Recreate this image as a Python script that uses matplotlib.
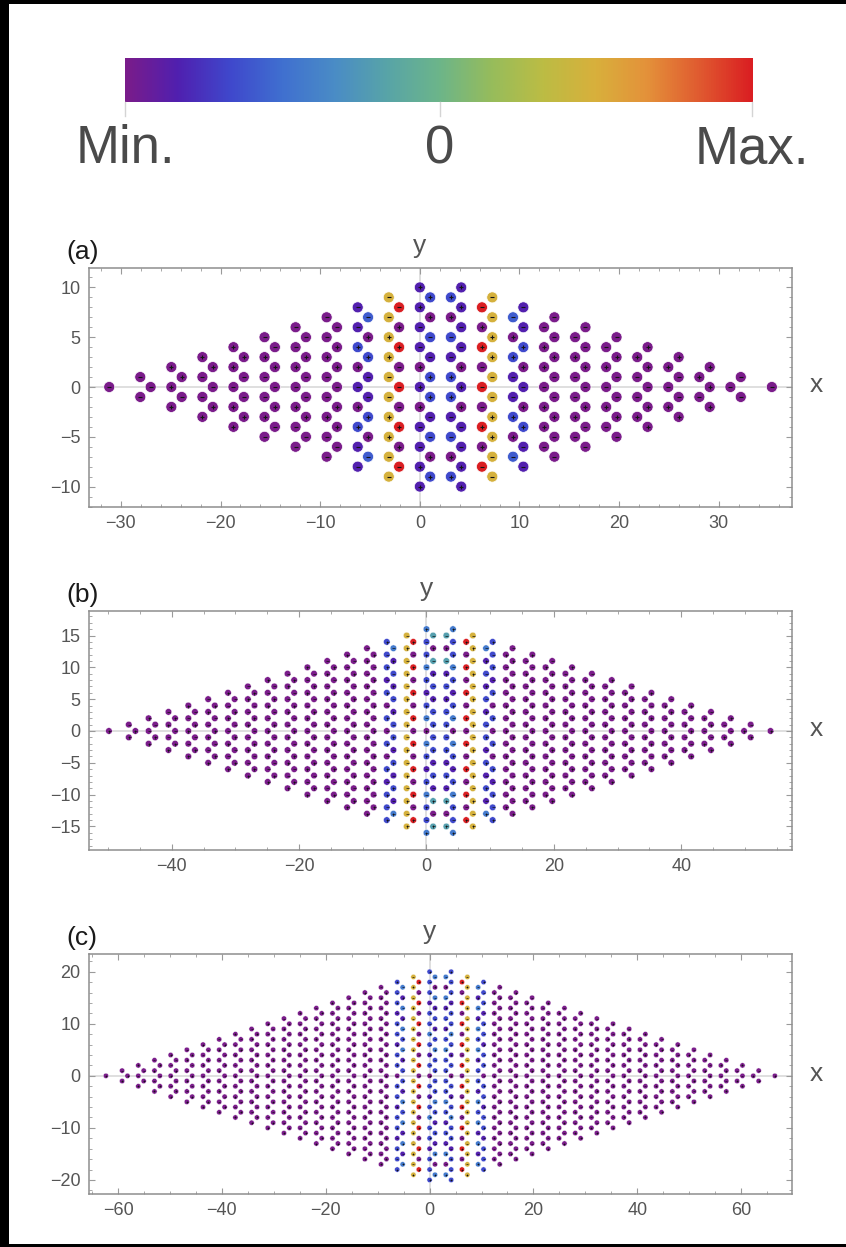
import numpy as np
import matplotlib
matplotlib.use("Agg")
import matplotlib.pyplot as plt
from matplotlib.colors import LinearSegmentedColormap, Normalize
from matplotlib.patches import Rectangle
from matplotlib.ticker import MultipleLocator

plt.rcParams['font.family'] = ['Liberation Sans', 'DejaVu Sans']

# ------------------------------------------------------------------ data
# colour scale (Min -> 0 -> Max), Mathematica-"Rainbow"-like anchors
rainbow_colors = ['#7a1c8a', '#5020b0', '#3f48cc', '#4070d0', '#4a8cc6', '#58a4a8',
                  '#6cb58a', '#96bc5c', '#bcbc44', '#d8b03c', '#e4913a', '#e05a30', '#da1e22']
colorbar_labels = ["Min.", "0", "Max."]

# colour codes -> position on the colour scale
code_levels = {"P": 0.0, "V": 0.04, "I": 0.08, "B": 0.17, "b": 0.21,
               "L": 0.28, "T": 0.40, "G": 0.74, "R": 1.0}

lattice_step = 1.039          # x distance per column index
panel_sizes = [10, 16, 20]    # half height (max |y|) of each lattice
panel_names = ["(a)", "(b)", "(c)"]

# colours of the central columns (left half; right half is the mirror n -> 4-n)
# strings run from top (max y) to bottom (min y); other columns are Min (P)
a_central = {-6: "IIBPIPBII", -5: "bPBIIBPb", -3: "GGGGGGGGGG",
             -2: "RPRPRPRPR", 0: "IIIIPIPIIII", 1: "BPBIBBIBPB"}
b_central = {-6: "BBBIBPBPBPBIBBB", -5: "LIBIBIBBIBIBIL", -3: "GGGGGGGGGGGGGGGG",
             -2: "RPRPRPRPRPRPRPR", 0: "LBBLBIBLPLBIBLBBL", 1: "TPTIBIBBBBIBITPT"}
c_central = {-6: "BBBIBBIBBPBBIBBIBBB", -5: "LILILBLIBBILBLILIL",
             -3: "GGGGGGGGGGGGGGGGGGGG", -2: "RPRPRPRPRPRPRPRPRPR",
             0: "BBBIBBLBIBPBIBLBBIBBB", 1: "LPLIBIBLBBBBLBIBILPL"}

# signs of panel (a), left half columns (top -> bottom)
a_signs = {-30: "-", -27: "--", -26: "-", -24: "+++", -23: "+-", -21: "+--+",
           -20: "+-+", -18: "++-++", -17: "+--+", -15: "-+--+-", -14: "-+-+-",
           -12: "--+-+--", -11: "-+--+-", -9: "--+--+--", -8: "-++-++-",
           -6: "--++-++--", -5: "-++--++-", -3: "--++--++--", -2: "-++---++-",
           0: "++--+++--++", 1: "++--++--++"}

# axes settings
xlims = [(-33.2, 37.35), (-53.0, 57.4), (-65.6, 69.8)]
ylims = [(-12.05, 11.95), (-18.7, 18.85), (-22.7, 23.4)]
xtick_vals = [[-30, -20, -10, 0, 10, 20, 30], [-40, -20, 0, 20, 40], [-60, -40, -20, 0, 20, 40, 60]]
ytick_vals = [[-10, -5, 0, 5, 10], [-15, -10, -5, 0, 5, 10, 15], [-20, -10, 0, 10, 20]]
x_minor = [2, 5, 5]
y_minor = [1, 1, 2]

# ------------------------------------------------------------------ figure
W, H = 846, 1247
fig = plt.figure(figsize=(W / 100, H / 100), dpi=100)
def fx(px): return px / W
def fy(py): return 1 - py / H

cmap = LinearSegmentedColormap.from_list("rainbow_m", rainbow_colors)
norm = Normalize(0, 1)

# colour bar
cax = fig.add_axes([fx(125), fy(102), fx(752) - fx(125), 44 / H])
cax.imshow(np.linspace(0, 1, 512)[None, :], aspect='auto', cmap=cmap, norm=norm,
           extent=(0, 1, 0, 1))
cax.set_axis_off()
for xp, lab in zip([125, 440, 752], colorbar_labels):
    fig.add_artist(plt.Line2D([fx(xp), fx(xp)], [fy(102), fy(116)], color='#d4d4d4', lw=1))
    fig.text(fx(xp), fy(149), lab, ha='center', va='center', fontsize=38, color='#4a4a4a')

# panels: frame pixel boxes (left, top, right, bottom)
boxes = [(89, 268, 792, 507), (89, 611, 792, 850), (89, 954, 792, 1194)]
centrals = [a_central, b_central, c_central]
marker_px = [11.0, 6.6, 5.3]
sign_px = [5.0, 3.0, 2.3]


def lattice(N, central):
    xs, ys, vals, cols = [], [], [], []
    for k in range(-N, 1):
        for n, count in ((3 * k, N + k + 1), (3 * k + 1, N + k)):
            if count <= 0:
                continue
            codes = central.get(n, "P" * count)
            top = count - 1
            for side_n in ([n, 4 - n]):
                for j, ch in enumerate(codes):
                    xs.append(side_n * lattice_step)
                    ys.append(top - 2 * j)
                    vals.append(code_levels[ch])
                    cols.append((n, j))
    return np.array(xs), np.array(ys), np.array(vals), cols


for i, (N, central, box) in enumerate(zip(panel_sizes, centrals, boxes)):
    l, t, r, b = box
    ax = fig.add_axes([fx(l), fy(b), fx(r) - fx(l), (b - t) / H])
    ax.set_xlim(*xlims[i])
    ax.set_ylim(*ylims[i])
    ax.axhline(0, color='#d6d6d6', lw=1.1, zorder=0)
    ax.axvline(0, color='#d6d6d6', lw=1.1, zorder=0)

    xs, ys, vals, cols = lattice(N, central)
    s = (marker_px[i] * 0.72) ** 2
    ax.scatter(xs, ys, c=vals, cmap=cmap, norm=norm, s=s, edgecolors='white',
               linewidths=0.5 if i == 0 else 0.3, zorder=3)

    # signs
    plus_x, plus_y, minus_x, minus_y = [], [], [], []
    for x, y, (n, j) in zip(xs, ys, cols):
        if i == 0:
            sgn = a_signs[n][j]
        else:
            sgn = '+' if ((int(round(y)) + n // 3) // 2) % 2 == 0 else '-'
        if sgn == '+':
            plus_x.append(x); plus_y.append(y)
        else:
            minus_x.append(x); minus_y.append(y)
    msz = sign_px[i] * 0.72
    mlw = 0.8 if i == 0 else 0.5
    ax.plot(plus_x, plus_y, ls='none', marker='+', ms=msz, mew=mlw, color='#151515', zorder=4)
    ax.plot(minus_x, minus_y, ls='none', marker='_', ms=msz, mew=mlw, color='#151515', zorder=4)

    # frame and ticks
    for sp in ax.spines.values():
        sp.set_color('#8e8e8e')
        sp.set_linewidth(1.1)
    ax.set_xticks(xtick_vals[i])
    ax.set_yticks(ytick_vals[i])
    ax.xaxis.set_minor_locator(MultipleLocator(x_minor[i]))
    ax.yaxis.set_minor_locator(MultipleLocator(y_minor[i]))
    ax.tick_params(which='both', direction='in', top=True, right=True, color='#9a9a9a',
                   labelsize=13, labelcolor='#555555')
    ax.tick_params(which='major', length=4.5, width=0.8, pad=6)
    ax.tick_params(which='minor', length=2.5, width=0.6)

    # labels
    x0_px = l + (0 - xlims[i][0]) / (xlims[i][1] - xlims[i][0]) * (r - l)
    y0_px = b - (0 - ylims[i][0]) / (ylims[i][1] - ylims[i][0]) * (b - t)
    fig.text(fx(x0_px), fy(t - 22), "y", ha='center', va='center', fontsize=19, color='#555555')
    fig.text(fx(816), fy(y0_px - 2), "x", ha='center', va='center', fontsize=19, color='#555555')
    fig.text(fx(66), fy(t - 16), panel_names[i], ha='left', va='center', fontsize=19, color='#1a1a1a')

# black border of the picture
fig.add_artist(Rectangle((0, 0), fx(9), 1, transform=fig.transFigure, color='black', lw=0))
fig.add_artist(Rectangle((0, fy(4)), 1, 4 / H, transform=fig.transFigure, color='black', lw=0))
fig.add_artist(Rectangle((0, 0), 1, 3 / H, transform=fig.transFigure, color='black', lw=0))

fig.savefig("out.png", dpi=100, facecolor='white')
